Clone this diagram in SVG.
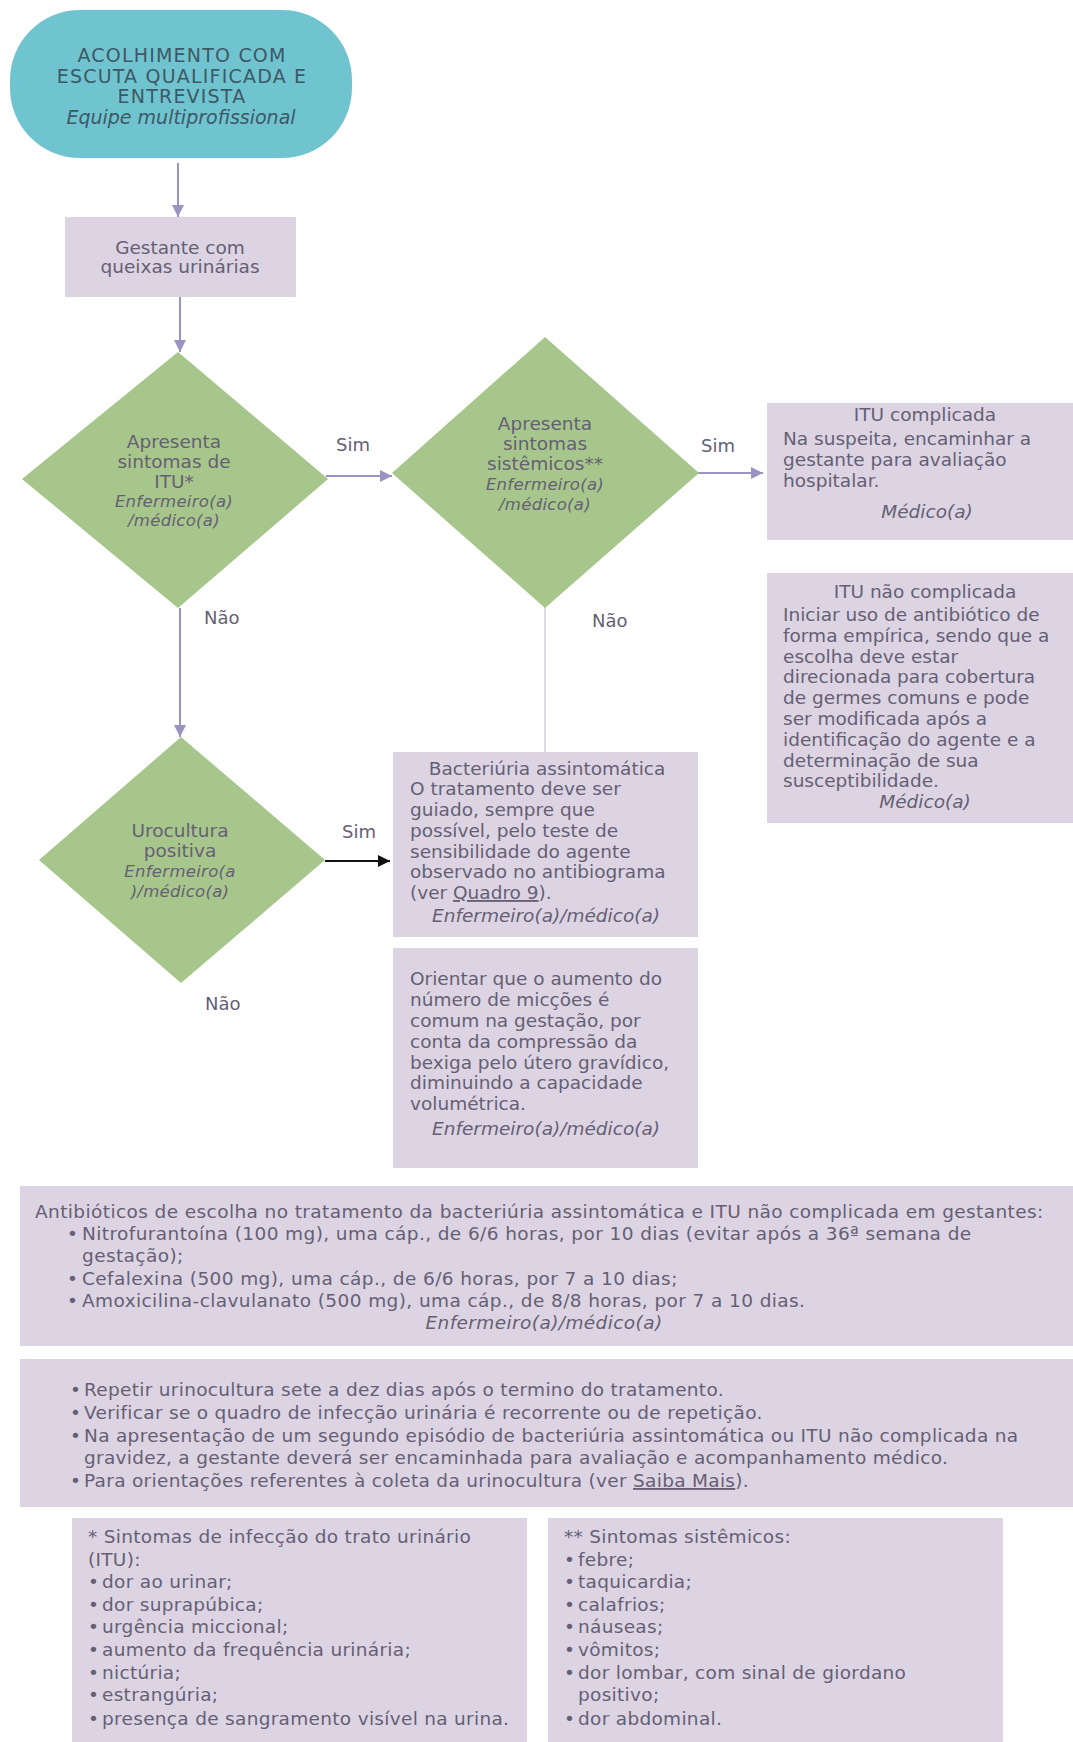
<svg xmlns="http://www.w3.org/2000/svg" width="1073" height="1742" viewBox="0 0 1073 1742">
<style>
text{font-family:"DejaVu Sans","Liberation Sans",sans-serif;fill:#665f74;}
.t{font-size:18.5px;}
.d{font-size:18.5px;}
.di{font-size:16.5px;font-style:italic;letter-spacing:0.3px;}
.i{font-style:italic;}
.c{text-anchor:middle;}
.s{font-size:18.5px;letter-spacing:0.4px;}
.b{font-size:18.5px;letter-spacing:0.3px;}
.term{font-size:19px;fill:#3d5866;}
.up{letter-spacing:1.2px;}
.box{fill:#dcd4e3;}
.dia{fill:#a6c68b;}
.lab{font-size:18px;}
.u{text-decoration:underline;}
.con{stroke:#9d93c0;stroke-width:2;fill:none;}
</style>
<defs>
<marker id="ah" viewBox="0 0 10 10" refX="10" refY="5" markerWidth="12" markerHeight="12" markerUnits="userSpaceOnUse" orient="auto"><path d="M0,0 L10,5 L0,10 z" fill="#9d93c0"/></marker>
<marker id="ahk" viewBox="0 0 10 10" refX="10" refY="5" markerWidth="12" markerHeight="12" markerUnits="userSpaceOnUse" orient="auto"><path d="M0,0 L10,5 L0,10 z" fill="#111"/></marker>
</defs>
<rect width="1073" height="1742" fill="#ffffff"/>

<g id="connectors">
<line class="con" x1="178" y1="163" x2="178" y2="217" marker-end="url(#ah)"/>
<line class="con" x1="180" y1="297" x2="180" y2="352" marker-end="url(#ah)"/>
<line class="con" x1="326" y1="476" x2="392" y2="476" marker-end="url(#ah)"/>
<line class="con" x1="698" y1="473" x2="763" y2="473" marker-end="url(#ah)"/>
<line class="con" x1="180" y1="608" x2="180" y2="737" marker-end="url(#ah)"/>
<line x1="545" y1="607" x2="545" y2="752" stroke="#d3cfd9" stroke-width="1.5"/>
<line x1="325" y1="861" x2="390" y2="861" stroke="#111" stroke-width="2" marker-end="url(#ahk)"/>
<text class="lab" x="336" y="451">Sim</text>
<text class="lab" x="701" y="452">Sim</text>
<text class="lab" x="204" y="624">Não</text>
<text class="lab" x="592" y="627">Não</text>
<text class="lab" x="342" y="838">Sim</text>
<text class="lab" x="205" y="1010">Não</text>
</g>

<g id="n-acolhimento">
<rect x="10" y="10" width="342" height="148" rx="70" ry="70" fill="#70c4cf"/>
<text class="term up c" x="182" y="62">ACOLHIMENTO COM</text>
<text class="term up c" x="182" y="83">ESCUTA QUALIFICADA E</text>
<text class="term up c" x="182" y="103">ENTREVISTA</text>
<text class="term i c" x="181" y="124">Equipe multiprofissional</text>
</g>

<g id="n-gestante">
<rect class="box" x="65" y="217" width="231" height="80"/>
<text class="t c" x="180" y="254">Gestante com</text>
<text class="t c" x="180" y="273">queixas urinárias</text>
</g>

<g id="n-sintomas-itu">
<polygon class="dia" points="178,352 328,479 178,608 22,479"/>
<text class="d c" x="174" y="448">Apresenta</text>
<text class="d c" x="174" y="468">sintomas de</text>
<text class="d c" x="174" y="488">ITU*</text>
<text class="di c" x="174" y="507">Enfermeiro(a)</text>
<text class="di c" x="174" y="526">/médico(a)</text>
</g>

<g id="n-sintomas-sistemicos">
<polygon class="dia" points="545,337 699,473 545,608 392,473"/>
<text class="d c" x="545" y="430">Apresenta</text>
<text class="d c" x="545" y="450">sintomas</text>
<text class="d c" x="545" y="470">sistêmicos**</text>
<text class="di c" x="545" y="490">Enfermeiro(a)</text>
<text class="di c" x="545" y="510">/médico(a)</text>
</g>

<g id="n-itu-complicada">
<rect class="box" x="767" y="403" width="306" height="137"/>
<text class="t c" x="925" y="421">ITU complicada</text>
<text class="t" x="783" y="445">Na suspeita, encaminhar a</text>
<text class="t" x="783" y="466">gestante para avaliação</text>
<text class="t" x="783" y="487">hospitalar.</text>
<text class="t i c" x="927" y="518">Médico(a)</text>
</g>

<g id="n-itu-nao-complicada">
<rect class="box" x="767" y="573" width="306" height="250"/>
<text class="t c" x="925" y="598">ITU não complicada</text>
<text class="t" x="783" y="621">Iniciar uso de antibiótico de</text>
<text class="t" x="783" y="641.8">forma empírica, sendo que a</text>
<text class="t" x="783" y="662.6">escolha deve estar</text>
<text class="t" x="783" y="683.4">direcionada para cobertura</text>
<text class="t" x="783" y="704.2">de germes comuns e pode</text>
<text class="t" x="783" y="725">ser modificada após a</text>
<text class="t" x="783" y="745.8">identificação do agente e a</text>
<text class="t" x="783" y="766.6">determinação de sua</text>
<text class="t" x="783" y="787.4">susceptibilidade.</text>
<text class="t i c" x="925" y="808">Médico(a)</text>
</g>

<g id="n-urocultura">
<polygon class="dia" points="181,737 325,860 181,983 39,860"/>
<text class="d c" x="180" y="837">Urocultura</text>
<text class="d c" x="180" y="857">positiva</text>
<text class="di c" x="180" y="877">Enfermeiro(a</text>
<text class="di c" x="180" y="897">)/médico(a)</text>
</g>

<g id="n-bacteriuria">
<rect class="box" x="393" y="752" width="305" height="185"/>
<text class="t c" x="547" y="775">Bacteriúria assintomática</text>
<text class="t" x="410" y="795">O tratamento deve ser</text>
<text class="t" x="410" y="816">guiado, sempre que</text>
<text class="t" x="410" y="837">possível, pelo teste de</text>
<text class="t" x="410" y="858">sensibilidade do agente</text>
<text class="t" x="410" y="878">observado no antibiograma</text>
<text class="t" x="410" y="899">(ver <tspan class="u">Quadro 9</tspan>).</text>
<text class="t i c" x="546" y="922">Enfermeiro(a)/médico(a)</text>
</g>

<g id="n-orientar">
<rect class="box" x="393" y="948" width="305" height="220"/>
<text class="t" x="410" y="985">Orientar que o aumento do</text>
<text class="t" x="410" y="1006">número de micções é</text>
<text class="t" x="410" y="1027">comum na gestação, por</text>
<text class="t" x="410" y="1048">conta da compressão da</text>
<text class="t" x="410" y="1069">bexiga pelo útero gravídico,</text>
<text class="t" x="410" y="1089">diminuindo a capacidade</text>
<text class="t" x="410" y="1110">volumétrica.</text>
<text class="t i c" x="546" y="1135">Enfermeiro(a)/médico(a)</text>
</g>

<g id="n-antibioticos">
<rect class="box" x="20" y="1186" width="1053" height="160"/>
<text class="s" x="35" y="1218">Antibióticos de escolha no tratamento da bacteriúria assintomática e ITU não complicada em gestantes:</text>
<text class="s"><tspan x="67" y="1240.2">•</tspan><tspan x="82" y="1240.2">Nitrofurantoína (100 mg), uma cáp., de 6/6 horas, por 10 dias (evitar após a 36ª semana de</tspan></text>
<text class="s" x="82" y="1262.4">gestação);</text>
<text class="s"><tspan x="67" y="1284.6">•</tspan><tspan x="82" y="1284.6">Cefalexina (500 mg), uma cáp., de 6/6 horas, por 7 a 10 dias;</tspan></text>
<text class="s"><tspan x="67" y="1306.8">•</tspan><tspan x="82" y="1306.8">Amoxicilina-clavulanato (500 mg), uma cáp., de 8/8 horas, por 7 a 10 dias.</tspan></text>
<text class="s i c" x="544" y="1329">Enfermeiro(a)/médico(a)</text>
</g>

<g id="n-repetir">
<rect class="box" x="20" y="1359" width="1053" height="148"/>
<text class="b"><tspan x="70" y="1396">•</tspan><tspan x="84" y="1396">Repetir urinocultura sete a dez dias após o termino do tratamento.</tspan></text>
<text class="b"><tspan x="70" y="1419">•</tspan><tspan x="84" y="1419">Verificar se o quadro de infecção urinária é recorrente ou de repetição.</tspan></text>
<text class="b"><tspan x="70" y="1442">•</tspan><tspan x="84" y="1442">Na apresentação de um segundo episódio de bacteriúria assintomática ou ITU não complicada na</tspan></text>
<text class="b" x="84" y="1464">gravidez, a gestante deverá ser encaminhada para avaliação e acompanhamento médico.</text>
<text class="b"><tspan x="70" y="1487">•</tspan><tspan x="84" y="1487">Para orientações referentes à coleta da urinocultura (ver <tspan class="u">Saiba Mais</tspan>).</tspan></text>
</g>

<g id="n-sintomas-itu-nota">
<rect class="box" x="72" y="1518" width="455" height="224"/>
<text class="b" x="88" y="1543">* Sintomas de infecção do trato urinário</text>
<text class="b" x="88" y="1565.6">(ITU):</text>
<text class="b"><tspan x="88" y="1588.2">•</tspan><tspan x="102" y="1588.2">dor ao urinar;</tspan></text>
<text class="b"><tspan x="88" y="1610.8">•</tspan><tspan x="102" y="1610.8">dor suprapúbica;</tspan></text>
<text class="b"><tspan x="88" y="1633.4">•</tspan><tspan x="102" y="1633.4">urgência miccional;</tspan></text>
<text class="b"><tspan x="88" y="1656">•</tspan><tspan x="102" y="1656">aumento da frequência urinária;</tspan></text>
<text class="b"><tspan x="88" y="1678.6">•</tspan><tspan x="102" y="1678.6">nictúria;</tspan></text>
<text class="b"><tspan x="88" y="1701.2">•</tspan><tspan x="102" y="1701.2">estrangúria;</tspan></text>
<text class="b"><tspan x="88" y="1724.8">•</tspan><tspan x="102" y="1724.8">presença de sangramento visível na urina.</tspan></text>
</g>

<g id="n-sintomas-sistemicos-nota">
<rect class="box" x="548" y="1518" width="455" height="224"/>
<text class="b" x="564" y="1543">** Sintomas sistêmicos:</text>
<text class="b"><tspan x="564" y="1565.6">•</tspan><tspan x="578" y="1565.6">febre;</tspan></text>
<text class="b"><tspan x="564" y="1588.2">•</tspan><tspan x="578" y="1588.2">taquicardia;</tspan></text>
<text class="b"><tspan x="564" y="1610.8">•</tspan><tspan x="578" y="1610.8">calafrios;</tspan></text>
<text class="b"><tspan x="564" y="1633.4">•</tspan><tspan x="578" y="1633.4">náuseas;</tspan></text>
<text class="b"><tspan x="564" y="1656">•</tspan><tspan x="578" y="1656">vômitos;</tspan></text>
<text class="b"><tspan x="564" y="1678.6">•</tspan><tspan x="578" y="1678.6">dor lombar, com sinal de giordano</tspan></text>
<text class="b" x="578" y="1701.2">positivo;</text>
<text class="b"><tspan x="564" y="1724.8">•</tspan><tspan x="578" y="1724.8">dor abdominal.</tspan></text>
</g>
</svg>
